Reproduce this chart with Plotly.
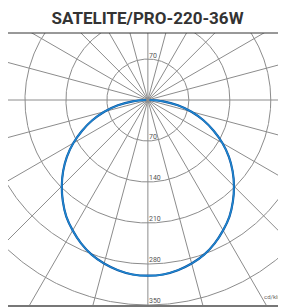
import numpy as np
import plotly.graph_objects as go

# ---- data ----
title_text = "SATELITE/PRO-220-36W"
unit_label = "cd/klm"
gamma_deg = [0, 5, 10, 15, 20, 25, 30, 35, 40, 45, 50, 55, 60, 65, 70, 75, 80, 85, 90]
intensity_c0_c180 = [300, 299, 295, 289, 281, 270, 257, 243, 226, 208, 189, 169, 147, 124, 101, 77, 52, 26, 3]
intensity_c90_c270 = [300, 299, 295, 289, 281, 270, 257, 243, 226, 208, 189, 169, 147, 124, 101, 77, 52, 26, 3]
ring_values = [70, 140, 210, 280, 350]
ring_labels = ["70", "140", "210", "280", "350"]
top_ring_value = 70
top_ring_label = "70"
spoke_angles = list(range(0, 360, 15))

GRID = "#8c8c8c"


def curve_xy(gam, vals):
    th = [-g for g in gam[::-1]] + gam[1:]
    rr = vals[::-1] + vals[1:]
    th = np.radians(th)
    rr = np.array(rr, dtype=float)
    return rr * np.sin(th), -rr * np.cos(th)


fig = go.Figure()

# rings
t = np.linspace(0, 2 * np.pi, 721)
rx, ry = [], []
for r in ring_values:
    rx += list(r * np.cos(t)) + [None]
    ry += list(r * np.sin(t)) + [None]
fig.add_trace(go.Scatter(x=rx, y=ry, mode="lines", line=dict(color=GRID, width=1),
                         hoverinfo="skip", showlegend=False))

# spokes
R = 800
sx, sy = [], []
for a in spoke_angles:
    ar = np.radians(a)
    sx += [0, R * np.sin(ar), None]
    sy += [0, R * np.cos(ar), None]
fig.add_trace(go.Scatter(x=sx, y=sy, mode="lines", line=dict(color=GRID, width=1),
                         hoverinfo="skip", showlegend=False))

# curves
x0, y0 = curve_xy(gamma_deg, intensity_c0_c180)
fig.add_trace(go.Scatter(x=x0, y=y0, mode="lines", line=dict(color="#0b4f9c", width=2.2, shape="spline"),
                         name="C0-C180", showlegend=False))
x1, y1 = curve_xy(gamma_deg, intensity_c90_c270)
fig.add_trace(go.Scatter(x=x1, y=y1, mode="lines", line=dict(color="#1f86cf", width=1.4, shape="spline"),
                         name="C90-C270", showlegend=False))

ann = []
for v, lab in zip(ring_values, ring_labels):
    ann.append(dict(x=0, y=-v + 6, xref="x", yref="y", text=lab, showarrow=False,
                    xanchor="left", yanchor="middle", xshift=-1,
                    font=dict(family="Roboto", size=7, color="#555")))
ann.append(dict(x=0, y=top_ring_value + 5, xref="x", yref="y", text=top_ring_label, showarrow=False,
                xanchor="left", yanchor="middle", xshift=-1,
                font=dict(family="Roboto", size=7, color="#555")))
ann.append(dict(x=0.997, y=0.012, xref="paper", yref="paper", text=unit_label, showarrow=False,
                xanchor="right", yanchor="bottom",
                font=dict(family="Roboto", size=6, color="#666")))

fig.update_layout(
    width=278, height=299, autosize=False,
    margin=dict(l=0, r=0, t=25, b=2),
    paper_bgcolor="white", plot_bgcolor="white",
    title=dict(text="<b>" + title_text + "</b>", x=0.502, xanchor="center", y=0.968, yanchor="middle",
               font=dict(family="Roboto", size=17, color="#333")),
    xaxis=dict(range=[-239, 236], showgrid=False, zeroline=False, showticklabels=False, ticks="",
               showline=True, linecolor="#777", linewidth=2, fixedrange=True),
    yaxis=dict(range=[-350, 114.4], showgrid=False, zeroline=False, showticklabels=False, ticks="",
               showline=True, linecolor="#555", linewidth=1, fixedrange=True),
    annotations=ann,
    shapes=[dict(type="line", xref="paper", yref="paper", x0=0, x1=1, y0=1, y1=1,
                 line=dict(color="#333", width=1))],
)

fig.write_html("out.html", config={"displayModeBar": False})
